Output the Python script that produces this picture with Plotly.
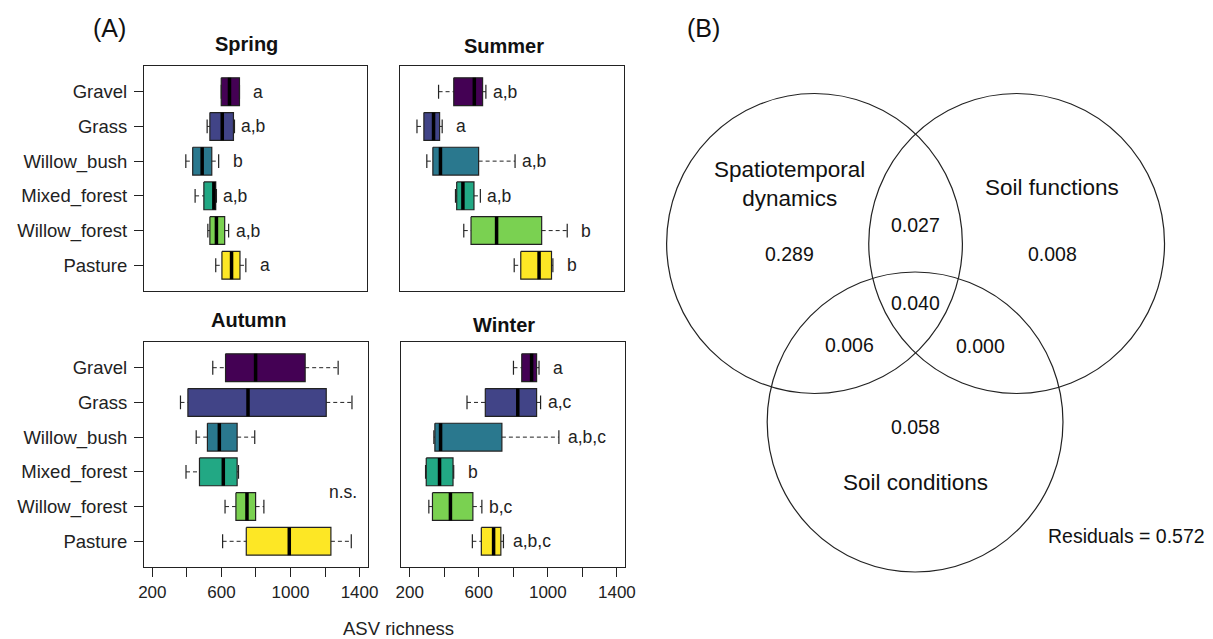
import plotly.graph_objects as go

W, H = 1213, 639

habitats = ["Gravel", "Grass", "Willow_bush", "Mixed_forest", "Willow_forest", "Pasture"]
colors = ["#440154", "#414487", "#2A788E", "#22A884", "#7AD151", "#FDE725"]
seasons = ["Spring", "Summer", "Autumn", "Winter"]

# five-number summaries (lower whisker, Q1, median, Q3, upper whisker)
spring_lo = [601, 519, 395, 449, 523, 569]
spring_q1 = [601, 535, 435, 500, 535, 605]
spring_med = [649, 607, 490, 558, 573, 661]
spring_q3 = [707, 672, 546, 569, 621, 710]
spring_hi = [707, 678, 586, 573, 644, 744]
spring_letters = ["a", "a,b", "b", "a,b", "a,b", "a"]

summer_lo = [373, 248, 305, 471, 519, 811]
summer_q1 = [461, 288, 340, 478, 561, 849]
summer_med = [580, 344, 384, 514, 709, 955]
summer_q3 = [628, 379, 605, 578, 970, 1027]
summer_hi = [647, 394, 816, 615, 1118, 1035]
summer_letters = ["a,b", "a", "a,b", "a,b", "b", "b"]

autumn_lo = [550, 363, 454, 395, 621, 607]
autumn_q1 = [624, 406, 519, 473, 684, 744]
autumn_med = [798, 754, 588, 611, 748, 993]
autumn_q3 = [1085, 1207, 691, 691, 798, 1234]
autumn_hi = [1276, 1356, 793, 699, 846, 1352]
autumn_letters = ["", "", "", "", "", ""]

winter_lo = [801, 532, 340, 292, 311, 563]
winter_q1 = [849, 638, 346, 296, 332, 615]
winter_med = [906, 826, 379, 373, 436, 686]
winter_q3 = [935, 935, 734, 451, 566, 728]
winter_hi = [949, 958, 1064, 455, 618, 743]
winter_letters = ["a", "a,c", "a,b,c", "b", "b,c", "a,b,c"]

x_ticks = [200, 400, 600, 800, 1000, 1200, 1400]
x_ticklabels = ["200", "", "600", "", "1000", "", "1400"]

# Venn (partition of explained variation)
venn_sets = ["Spatiotemporal<br>dynamics", "Soil functions", "Soil conditions"]
venn_fractions = ["0.289", "0.008", "0.058", "0.027", "0.006", "0.000", "0.040"]
venn_residuals = 0.572

FONT = "Liberation Sans, Arial, Helvetica, sans-serif"
LINE = "#222222"

season_data = [
    (spring_lo, spring_q1, spring_med, spring_q3, spring_hi, spring_letters),
    (summer_lo, summer_q1, summer_med, summer_q3, summer_hi, summer_letters),
    (autumn_lo, autumn_q1, autumn_med, autumn_q3, autumn_hi, autumn_letters),
    (winter_lo, winter_q1, winter_med, winter_q3, winter_hi, winter_letters),
]

# panel pixel boxes (left, right, top, bottom)
panels = [(140, 366, 66, 291), (400, 627, 66, 291), (140, 367, 342, 567), (401, 628, 342, 567)]
title_pos = [(244, 44), (505, 46), (246, 320), (505, 325)]


def pap(px, py):
    return px / W, 1 - py / H


fig = go.Figure()
annotations = []
bw = 0.4

for k, (lo, q1, med, q3, hi, letters) in enumerate(season_data):
    sfx = "" if k == 0 else str(k + 1)
    xa, ya = "x" + sfx, "y" + sfx
    for i in range(len(habitats)):
        y = i + 1
        fig.add_trace(go.Scatter(
            x=[q1[i], q3[i], q3[i], q1[i], q1[i]],
            y=[y - bw, y - bw, y + bw, y + bw, y - bw],
            fill="toself", fillcolor=colors[i], mode="lines",
            line=dict(color=LINE, width=1.2), xaxis=xa, yaxis=ya,
            hoverinfo="skip", showlegend=False))
    wx, wy = [], []
    cx, cy = [], []
    mx, my = [], []
    for i in range(len(habitats)):
        y = i + 1
        wx += [lo[i], q1[i], None, q3[i], hi[i], None]
        wy += [y, y, None, y, y, None]
        cx += [lo[i], lo[i], None, hi[i], hi[i], None]
        cy += [y - bw / 2, y + bw / 2, None, y - bw / 2, y + bw / 2, None]
        mx += [med[i], med[i], None]
        my += [y - bw, y + bw, None]
    fig.add_trace(go.Scatter(x=wx, y=wy, mode="lines", line=dict(color=LINE, width=1, dash="4px,3px"),
                             xaxis=xa, yaxis=ya, hoverinfo="skip", showlegend=False))
    fig.add_trace(go.Scatter(x=cx, y=cy, mode="lines", line=dict(color=LINE, width=1.2),
                             xaxis=xa, yaxis=ya, hoverinfo="skip", showlegend=False))
    fig.add_trace(go.Scatter(x=mx, y=my, mode="lines", line=dict(color="black", width=3.5),
                             xaxis=xa, yaxis=ya, hoverinfo="skip", showlegend=False))
    for i, lab in enumerate(letters):
        if lab:
            off = 110 if len(lab) < 5 else 165
            annotations.append(dict(x=hi[i] + off, y=i + 1, xref=xa, yref=ya, text=lab,
                                    showarrow=False, xanchor="center", yanchor="middle",
                                    font=dict(size=17.5, family=FONT, color="#222")))
    tx, ty = pap(*title_pos[k])
    annotations.append(dict(x=tx, y=ty, xref="paper", yref="paper", xanchor="center", yanchor="middle",
                            text="<b>%s</b>" % seasons[k],
                            showarrow=False, font=dict(size=20, family=FONT, color="#111")))

annotations.append(dict(x=1304, y=4.58, xref="x3", yref="y3", text="n.s.", showarrow=False,
                        xanchor="center", yanchor="middle",
                        font=dict(size=17.5, family=FONT, color="#222")))

layout = dict(width=W, height=H, margin=dict(l=0, r=0, t=0, b=0),
              paper_bgcolor="white", plot_bgcolor="rgba(0,0,0,0)", showlegend=False)

for k, (l, r, t, b) in enumerate(panels):
    sfx = "" if k == 0 else str(k + 1)
    bottom = k >= 2
    left = k % 2 == 0
    layout["xaxis" + sfx] = dict(
        domain=[l / W, r / W], range=[152, 1448], anchor="y" + sfx,
        showline=True, mirror=True, linecolor=LINE, linewidth=1.2, showgrid=False, zeroline=False,
        tickvals=x_ticks, ticktext=x_ticklabels, showticklabels=bottom,
        ticks="outside" if bottom else "", ticklen=9, tickcolor=LINE, tickwidth=1.2,
        tickfont=dict(size=17, family=FONT, color="#222"))
    layout["yaxis" + sfx] = dict(
        domain=[1 - b / H, 1 - t / H], range=[6.74, 0.26], anchor="x" + sfx,
        showline=True, mirror=True, linecolor=LINE, linewidth=1.2, showgrid=False, zeroline=False,
        tickvals=list(range(1, len(habitats) + 1)), ticktext=habitats, showticklabels=left,
        ticks="outside" if left else "", ticklen=9, tickcolor=LINE, tickwidth=1.2,
        ticklabelstandoff=3,
        tickfont=dict(size=18.5, family=FONT, color="#222"))

# pixel-space axis for the Venn diagram (right part of the figure)
VX0 = 640
layout["xaxis5"] = dict(domain=[VX0 / W, 1], range=[VX0, W], visible=False, anchor="y5", fixedrange=True)
layout["yaxis5"] = dict(domain=[0, 1], range=[H, 0], visible=False, anchor="x5", fixedrange=True)

R = 150
circles = [(820, 243.5), (1025, 243.5), (922, 422)]
shapes = []
for (cxp, cyp) in circles:
    shapes.append(dict(type="circle", xref="x5", yref="y5", x0=cxp - R, x1=cxp + R,
                       y0=cyp - R, y1=cyp + R, line=dict(color="#222", width=1.2)))

set_pos = [(795, 184), (1061, 187), (922, 482)]
for lab, (px, py) in zip(venn_sets, set_pos):
    annotations.append(dict(x=px, y=py, xref="x5", yref="y5", text=lab, showarrow=False,
                            xanchor="center", yanchor="middle",
                            font=dict(size=22.5, family=FONT, color="#111")))
frac_pos = [(795, 254), (1061, 254), (922, 427), (922, 225), (855, 345), (988, 346), (922, 303)]
for lab, (px, py) in zip(venn_fractions, frac_pos):
    annotations.append(dict(x=px, y=py, xref="x5", yref="y5", text=lab, showarrow=False,
                            xanchor="center", yanchor="middle",
                            font=dict(size=19.5, family=FONT, color="#111")))
annotations.append(dict(x=1055, y=536, xref="x5", yref="y5", xanchor="left", yanchor="middle",
                        text="Residuals = %.3f" % venn_residuals, showarrow=False,
                        font=dict(size=19.5, family=FONT, color="#111")))

for lab, (px, py) in [("(A)", (105, 28)), ("(B)", (707, 28))]:
    ax_, ay_ = pap(px, py)
    annotations.append(dict(x=ax_, y=ay_, xref="paper", yref="paper", text=lab, showarrow=False,
                            xanchor="center", yanchor="middle",
                            font=dict(size=25, family=FONT, color="#111")))
ax_, ay_ = pap(398, 628)
annotations.append(dict(x=ax_, y=ay_, xref="paper", yref="paper", text="ASV richness",
                        xanchor="center", yanchor="middle",
                        showarrow=False, font=dict(size=18.5, family=FONT, color="#222")))

layout["annotations"] = annotations
layout["shapes"] = shapes
fig.update_layout(**layout)
fig.write_html("out.html")
